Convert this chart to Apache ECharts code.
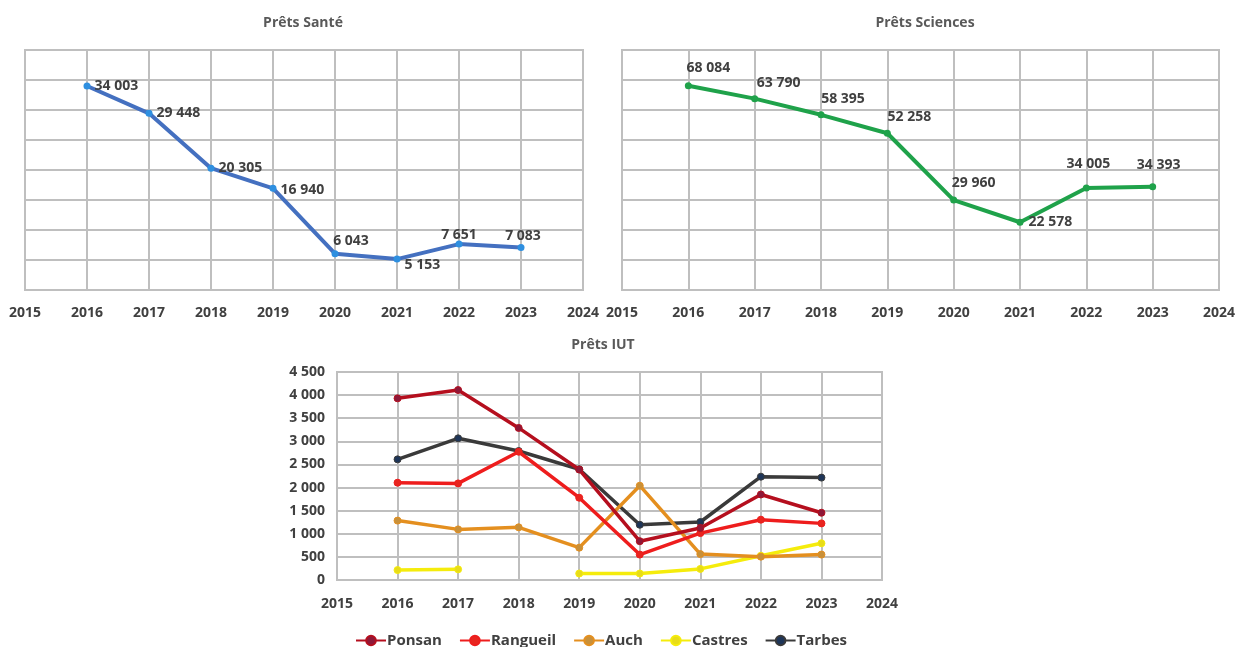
<!DOCTYPE html>
<html><head><meta charset="utf-8">
<script src="https://cdn.jsdelivr.net/npm/echarts@6/dist/echarts.min.js"></script>
<style>html,body{margin:0;padding:0;background:#fff}#c{width:1252px;height:647px}</style>
</head><body><div id="c"></div>
<script>
const years = [2016, 2017, 2018, 2019, 2020, 2021, 2022, 2023];
const sante = [34003, 29448, 20305, 16940, 6043, 5153, 7651, 7083];
const sciences = [68084, 63790, 58395, 52258, 29960, 22578, 34005, 34393];
const ponsan = [3930, 4110, 3290, 2390, 840, 1125, 1850, 1455];
const rangueil = [2105, 2090, 2775, 1780, 550, 1015, 1305, 1225];
const auch = [1285, 1095, 1140, 700, 2040, 560, 505, 550];
const castres = [215, 230, null, 140, 140, 240, 525, 795];
const tarbes = [2610, 3065, 2790, 2395, 1195, 1255, 2235, 2215];
const iutNames = ['Ponsan', 'Rangueil', 'Auch', 'Castres', 'Tarbes'];
const titles = ['Prêts Santé', 'Prêts Sciences', 'Prêts IUT'];

const FONT = "'Open Sans', 'Liberation Sans', sans-serif";
const fmt = v => String(v).replace(/\B(?=(\d{3})+(?!\d))/g, ' ');
const pairs = arr => years.map((y, i) => [y, arr[i] == null ? '-' : arr[i]]);

const santePos = ['right', 'right', 'right', 'right', 'top', 'right', 'top', 'top'];
const santeOff = [[0,0],[0,0],[0,0],[0,2],[16,2],[0,6],[0,5],[2,3]];
const sciPos = ['top', 'top', 'top', 'top', 'top', 'right', 'top', 'top'];
const sciOff = [[20,-2],[24,0],[22,0],[22,-1],[20,-2],[0,0],[2,-8],[6,-6]];

function labeled(arr, pos, off) {
  return years.map((y, i) => ({
    value: [y, arr[i]],
    label: { position: pos[i], offset: off[i] }
  }));
}

const axisLabelStyle = { color: '#404040', fontWeight: 'bold', fontSize: 14, fontFamily: FONT };
const gridLine = { show: true, lineStyle: { color: '#BFBFBF', width: 2 } };

function xAxis(gi, margin) {
  return {
    type: 'value', gridIndex: gi, min: 2015, max: 2024, interval: 1,
    axisLine: { show: false }, axisTick: { show: false },
    axisLabel: Object.assign({ margin: margin, formatter: v => String(v) }, axisLabelStyle),
    splitLine: gridLine
  };
}

const iutColors = ['#B50F1E', '#EE1D1D', '#E48F1F', '#F5EC0C', '#3A3A3A'];
const iutMarker = ['#8E1838', '#E8251F', '#C8903A', '#E8DC18', '#1E3558'];
const iutData = [ponsan, rangueil, auch, castres, tarbes];
const titleStyle = { color: '#595959', fontSize: 14, fontWeight: 'bold', fontFamily: FONT };

const option = {
  animation: false,
  backgroundColor: '#fff',
  title: [
    { text: titles[0], left: 298, top: 11, textAlign: 'center', textStyle: titleStyle },
    { text: titles[1], left: 920, top: 11, textAlign: 'center', textStyle: titleStyle },
    { text: titles[2], left: 598, top: 333, textAlign: 'center', textStyle: titleStyle }
  ],
  legend: {
    data: iutNames, left: 350, top: 628, itemWidth: 30, itemHeight: 12, itemGap: 17,
    textStyle: { color: '#404040', fontWeight: 'bold', fontSize: 15, fontFamily: FONT, padding: [0, 0, 0, -4] }
  },
  grid: [
    { left: 25, top: 50, width: 558, height: 240, show: true, borderColor: '#BFBFBF', borderWidth: 2 },
    { left: 622, top: 50, width: 597, height: 240, show: true, borderColor: '#BFBFBF', borderWidth: 2 },
    { left: 337, top: 372, width: 545, height: 208, show: true, borderColor: '#BFBFBF', borderWidth: 2 }
  ],
  xAxis: [xAxis(0, 16), xAxis(1, 16), xAxis(2, 17)],
  yAxis: [
    { type: 'value', gridIndex: 0, min: 0, max: 40000, interval: 5000, axisLabel: { show: false }, axisLine: { show: false }, axisTick: { show: false }, splitLine: gridLine },
    { type: 'value', gridIndex: 1, min: 0, max: 80000, interval: 10000, axisLabel: { show: false }, axisLine: { show: false }, axisTick: { show: false }, splitLine: gridLine },
    { type: 'value', gridIndex: 2, min: 0, max: 4500, interval: 500, axisLine: { show: false }, axisTick: { show: false },
      axisLabel: Object.assign({ margin: 12, formatter: v => fmt(v) }, axisLabelStyle), splitLine: gridLine }
  ],
  series: [
    {
      type: 'line', name: titles[0], xAxisIndex: 0, yAxisIndex: 0,
      data: labeled(sante, santePos, santeOff),
      lineStyle: { color: '#4470C0', width: 4 },
      itemStyle: { color: '#2E8FE0' }, symbol: 'circle', symbolSize: 7,
      label: { show: true, formatter: p => fmt(p.value[1]), color: '#404040', fontWeight: 'bold', fontSize: 14, fontFamily: FONT, distance: 4 }
    },
    {
      type: 'line', name: titles[1], xAxisIndex: 1, yAxisIndex: 1,
      data: labeled(sciences, sciPos, sciOff),
      lineStyle: { color: '#1FA24A', width: 4 },
      itemStyle: { color: '#1FA24A' }, symbol: 'circle', symbolSize: 7,
      label: { show: true, formatter: p => fmt(p.value[1]), color: '#404040', fontWeight: 'bold', fontSize: 14, fontFamily: FONT, distance: 5 }
    }
  ].concat(iutNames.map((n, k) => ({
    type: 'line', name: n, xAxisIndex: 2, yAxisIndex: 2,
    data: pairs(iutData[k]), connectNulls: false,
    lineStyle: { color: iutColors[k], width: 3.5 },
    itemStyle: { color: iutMarker[k], borderColor: iutColors[k], borderWidth: 1 },
    symbol: 'circle', symbolSize: 7, z: 5 - k + 2
  })))
};

const chart = echarts.init(document.getElementById('c'), null, { renderer: 'canvas' });
chart.setOption(option);
</script>
</body></html>
